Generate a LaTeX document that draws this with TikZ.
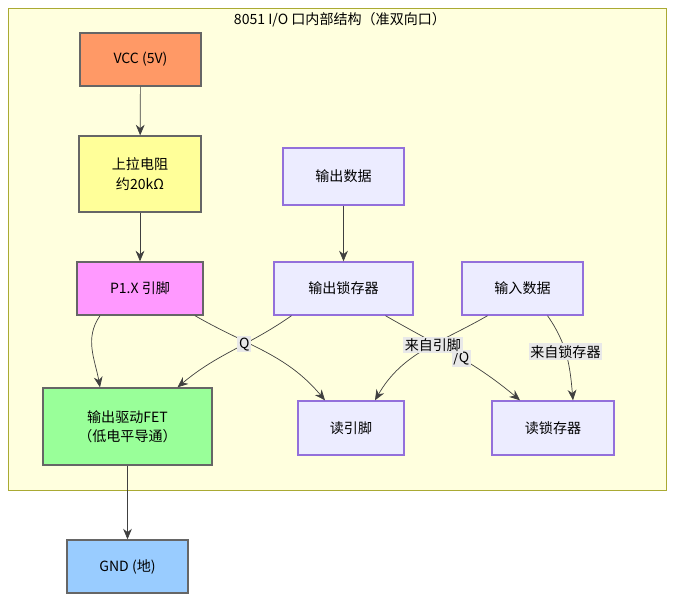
\documentclass[tikz,border=0pt]{standalone}
\usepackage{fontspec}
\setmainfont{Noto Sans CJK SC}
\usetikzlibrary{arrows.meta,calc}
\definecolor{clfill}{HTML}{FFFFDE}
\definecolor{clline}{HTML}{AAAA33}
\definecolor{vccfill}{HTML}{FF9966}
\definecolor{resfill}{HTML}{FFFF99}
\definecolor{pinfill}{HTML}{FF99FF}
\definecolor{fetfill}{HTML}{99FF99}
\definecolor{gndfill}{HTML}{99CCFF}
\definecolor{boxfill}{HTML}{ECECFF}
\definecolor{boxline}{HTML}{9370DB}
\definecolor{lblfill}{HTML}{E8E8E8}
\tikzset{
  blk/.style={draw=#1,thick,minimum height=1.06cm,align=center,font=\fontsize{8}{11}\selectfont},
  box/.style={blk=boxline,fill=boxfill},
  hw/.style={blk=black!60},
  arr/.style={-{Stealth[length=6pt,width=5pt]},draw=black!75},
  lbl/.style={fill=lblfill,inner sep=1pt,font=\fontsize{8}{10}\selectfont}
}
\begin{document}
\begin{tikzpicture}[x=0.02cm,y=-0.02cm]
	\useasboundingbox (0,0) rectangle (682,608);
	\draw[clline,fill=clfill] (8,8) rectangle (666,490);
	\node[font=\fontsize{8}{10}\selectfont] (title) at (340,20) {8051 I/O 口内部结构（准双向口）};
	
	\begin{scope}
		\node[hw,fill=vccfill,minimum width=2.42cm] (vcc) at (140.5,59.5) {VCC (5V)};
		\node[hw,fill=resfill,minimum width=2.44cm,minimum height=1.52cm] (pullup) at (140,174) {上拉电阻\\约20kΩ};
		\node[hw,fill=pinfill,minimum width=2.52cm] (pin) at (140,288.5) {P1.X 引脚};
		\node[hw,fill=fetfill,minimum width=3.38cm,minimum height=1.54cm] (fet) at (127.5,426.5) {输出驱动FET\\（低电平导通）};
		\node[hw,fill=gndfill,minimum width=2.42cm] (gnd) at (127.5,566.5) {GND (地)};
	\end{scope}
	
	\begin{scope}
		\node[box,minimum width=2.42cm,minimum height=1.14cm] (outdata) at (343.5,176.5) {输出数据};
		\node[box,minimum width=2.78cm] (latch) at (343.5,288.5) {输出锁存器};
		\node[box,minimum width=2.42cm] (indata) at (522.5,288.5) {输入数据};
		\node[box,minimum width=2.12cm,minimum height=1.08cm] (rdpin) at (351,428) {读引脚};
		\node[box,minimum width=2.44cm,minimum height=1.08cm] (rdlatch) at (553,428) {读锁存器};
	\end{scope}
	
	% 主通路
	\draw[arr] (vcc) -- (pullup);
	\draw[arr] (pullup) -- (pin);
	\draw[arr] (outdata) -- (latch);
	\draw[arr] (fet) -- (gnd);
	
	% 交叉连线
	\draw[arr] ($(pin.south)+(-40,0)$) to[out=-125,in=100] ($(fet.north)+(-27.5,0)$);
	\draw[arr] ($(pin.south)+(55,0)$) to[out=-30,in=130] ($(rdpin.north)+(-26,0)$);
	\draw[arr] ($(latch.south)+(-52,0)$) to[out=-145,in=40] node[lbl,pos=0.4] {Q} ($(fet.north)+(50,0)$);
	\draw[arr] ($(latch.south)+(42,0)$) to[out=-30,in=140] node[lbl,pos=0.55] {/Q} ($(rdlatch.north)+(-33,0)$);
	\draw[arr] ($(indata.south)+(-35,0)$) to[out=-150,in=60] node[lbl,pos=0.42] {来自引脚} ($(rdpin.north)+(24,0)$);
	\draw[arr] ($(indata.south)+(25,0)$) to[out=-55,in=95] node[lbl,pos=0.45] {来自锁存器} ($(rdlatch.north)+(20,0)$);
\end{tikzpicture}
\end{document}
